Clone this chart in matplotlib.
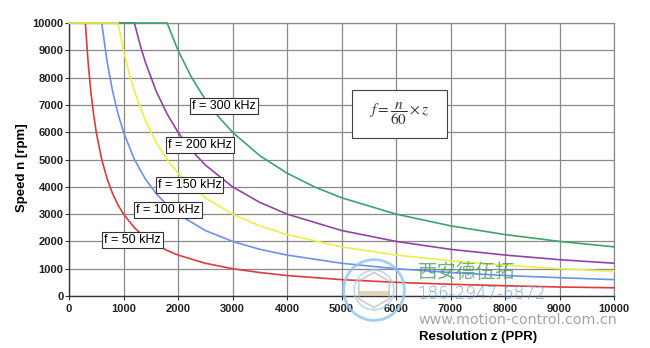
import numpy as np
import matplotlib
matplotlib.use("Agg")
from matplotlib import pyplot as plt
from matplotlib.patches import Rectangle, Circle, RegularPolygon

plt.rcParams["font.family"] = ["Liberation Sans", "DejaVu Sans"]
plt.rcParams["mathtext.fontset"] = "stix"

# speed curves n(z), capped at 10000 rpm
z_50 = [0, 300, 350, 400, 450, 500, 600, 700, 800, 900, 1000, 1200, 1400, 1600, 1800,
        2000, 2500, 3000, 3500, 4000, 5000, 6000, 7000, 8000, 9000, 10000]
n_50 = [10000, 10000, 8570, 7500, 6670, 6000, 5000, 4290, 3750, 3330, 3000, 2500, 2140, 1880, 1670,
        1500, 1200, 1000, 860, 750, 600, 500, 430, 375, 330, 300]

z_100 = [0, 600, 700, 800, 900, 1000, 1200, 1400, 1600, 1800, 2000, 2500, 3000, 3500,
         4000, 5000, 6000, 7000, 8000, 9000, 10000]
n_100 = [10000, 10000, 8570, 7500, 6670, 6000, 5000, 4290, 3750, 3330, 3000, 2400, 2000, 1710,
         1500, 1200, 1000, 860, 750, 670, 600]

z_150 = [0, 900, 1000, 1100, 1200, 1400, 1600, 1800, 2000, 2500, 3000, 3500, 4000, 5000,
         6000, 7000, 8000, 9000, 10000]
n_150 = [10000, 10000, 9000, 8180, 7500, 6430, 5630, 5000, 4500, 3600, 3000, 2570, 2250, 1800,
         1500, 1290, 1130, 1000, 900]

z_200 = [0, 1200, 1300, 1400, 1600, 1800, 2000, 2250, 2500, 3000, 3500, 4000, 5000, 6000,
         7000, 8000, 9000, 10000]
n_200 = [10000, 10000, 9230, 8570, 7500, 6670, 6000, 5330, 4800, 4000, 3430, 3000, 2400, 2000,
         1710, 1500, 1330, 1200]

z_300 = [0, 1800, 2000, 2250, 2500, 2750, 3000, 3500, 4000, 4500, 5000, 6000, 7000, 8000,
         9000, 10000]
n_300 = [10000, 10000, 9000, 8000, 7200, 6550, 6000, 5140, 4500, 4000, 3600, 3000, 2570, 2250,
         2000, 1800]

curve_labels = ["f = 50 kHz", "f = 100 kHz", "f = 150 kHz", "f = 200 kHz", "f = 300 kHz"]
curve_colors = ["#e03a3a", "#6f90ec", "#eeee4a", "#9244a4", "#3fa36a"]
ticks = list(range(0, 10001, 1000))

fig = plt.figure(figsize=(6.5, 3.48), dpi=100)
ax = fig.add_axes([69 / 650, 1 - 296 / 348, 545 / 650, 273 / 348])

# yellow last so its capped segment sits on top
curves = [(z_50, n_50, 0), (z_100, n_100, 1), (z_200, n_200, 3), (z_300, n_300, 4), (z_150, n_150, 2)]
for z, n, i in curves:
    ax.plot(z, n, color=curve_colors[i], linewidth=1.2, zorder=3, clip_on=False)

ax.set_xlim(0, 10000)
ax.set_ylim(0, 10000)
ax.set_xticks(ticks)
ax.set_yticks(ticks)
ax.grid(True, color="#8a8a8a", linewidth=0.9, zorder=1)
ax.set_axisbelow(True)
for side in ["top", "right"]:
    ax.spines[side].set_color("#8a8a8a")
    ax.spines[side].set_linewidth(0.9)
for side in ["left", "bottom"]:
    ax.spines[side].set_color("#333333")
    ax.spines[side].set_linewidth(1.0)
ax.tick_params(axis="both", length=3, width=0.8, color="#333333", labelsize=8)
ax.tick_params(axis="x", pad=2.5)
ax.tick_params(axis="y", pad=1)
for lbl in ax.get_xticklabels() + ax.get_yticklabels():
    lbl.set_fontweight("bold")
    lbl.set_color("#222222")

ax.set_xlabel("Resolution z (PPR)", fontsize=9.5, fontweight="bold")
ax.xaxis.set_label_coords(0.75, -0.128)
ax.set_ylabel("Speed n [rpm]", fontsize=9.5, fontweight="bold")
ax.yaxis.set_label_coords(-0.076, 0.47)

# boxed curve labels
label_pos = [(640, 2050), (1230, 3150), (1630, 4070), (1820, 5530), (2260, 6950)]
for (x, y), text in zip(label_pos, curve_labels):
    ax.text(x, y, text, fontsize=9, ha="left", va="center", zorder=5,
            bbox=dict(boxstyle="square,pad=0.15", facecolor="white", edgecolor="#333333", linewidth=0.8))

# formula box
ax.add_patch(Rectangle((5190, 5790), 1750, 1760, facecolor="white", edgecolor="#444444",
                       linewidth=0.8, zorder=4))
ax.text(6065, 6670, r"$f=\dfrac{n}{60}\times z$", fontsize=11, ha="center", va="center",
        color="#333333", zorder=5)

# watermark
logo = fig.add_axes([342 / 650, 1 - 322 / 348, 64 / 650, 64 / 348])
logo.set_xlim(-1, 1)
logo.set_ylim(-1, 1)
logo.set_aspect("equal")
logo.axis("off")
logo.add_patch(Circle((0, 0), 0.95, fill=False, edgecolor="#8fc3ec", linewidth=2.0, alpha=0.8))
logo.add_patch(Circle((0, 0), 0.62, fill=False, edgecolor="#a8cfe8", linewidth=1.4, alpha=0.7))
logo.add_patch(RegularPolygon((0, 0), 6, radius=0.55, fill=False, edgecolor="#b5b5b5",
                              linewidth=1.2, alpha=0.7))
logo.add_patch(Rectangle((-0.5, -0.2), 1.0, 0.18, facecolor="#d8c3a0", edgecolor="none", alpha=0.7))

fig.text(418 / 650, 1 - 273 / 348, "西安德伍拓", fontsize=14, color="#3f9a5c", alpha=0.75,
         va="center", ha="left", family=["Noto Sans CJK SC", "DejaVu Sans"])
fig.text(417 / 650, 1 - 294 / 348, "186-2947-6872", fontsize=12, color="#5a98d8", alpha=0.8,
         va="center", ha="left", family=["DejaVu Sans"], fontweight="light")
fig.text(418 / 650, 1 - 320 / 348, "www.motion-control.com.cn", fontsize=10.3, color="#8e8e8e",
         alpha=0.8, va="center", ha="left", family=["DejaVu Sans"])

fig.savefig("out.png", dpi=100, facecolor="white")
